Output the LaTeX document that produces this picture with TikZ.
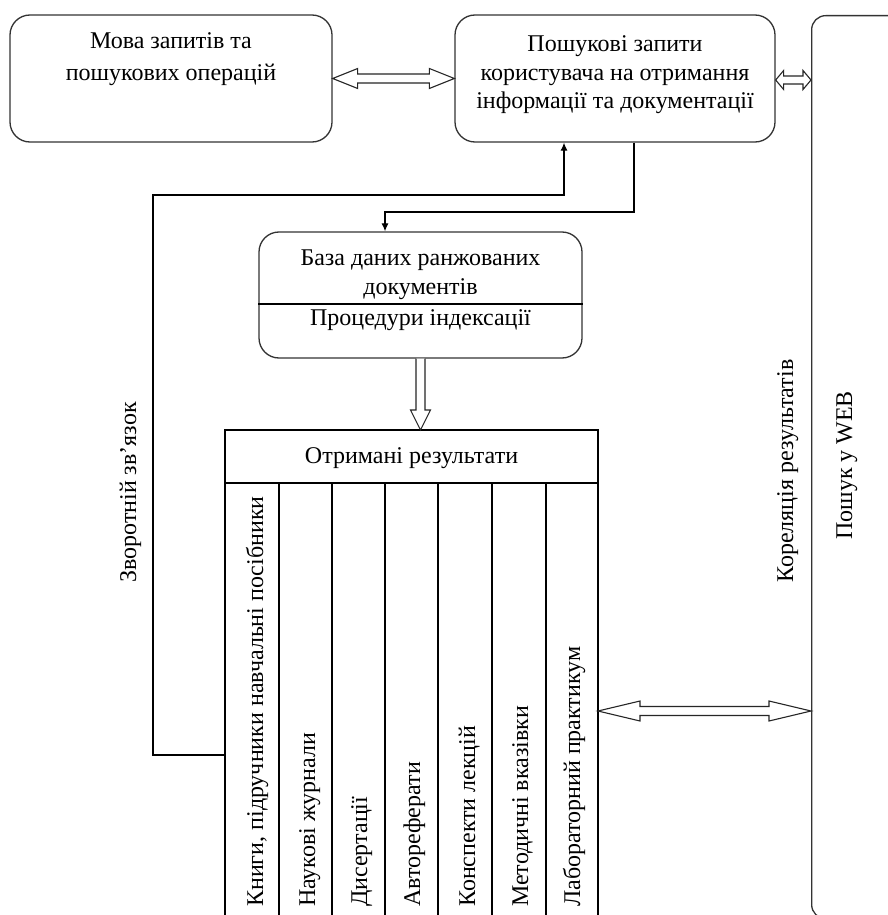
\documentclass[tikz,border=0pt]{standalone}
\usepackage{fontspec}
\setmainfont{Liberation Serif}
\usetikzlibrary{calc,arrows.meta}
\newcommand{\hdarrow}[5]{% #1 left tip, #2 right tip, #3 head length, #4 half head, #5 half shaft
  \draw[hollow] let \p1=(#1), \p2=(#2) in
    (\x1,\y1) -- ({\x1+#3},{\y1+#4}) -- ({\x1+#3},{\y1+#5}) -- ({\x2-#3},{\y1+#5})
    -- ({\x2-#3},{\y1+#4}) -- (\x2,\y1) -- ({\x2-#3},{\y1-#4}) -- ({\x2-#3},{\y1-#5})
    -- ({\x1+#3},{\y1-#5}) -- ({\x1+#3},{\y1-#4}) -- cycle;}
\begin{document}
\begin{tikzpicture}[x=1pt,y=-1pt,
  box/.style={draw=black!80, line width=1.3pt, rounded corners=20pt, fill=white, inner sep=0pt},
  txt/.style={font=\fontsize{24}{28.5}\selectfont, align=center, inner sep=0pt},
  vtxt/.style={font=\fontsize{24}{28.5}\selectfont, inner sep=0pt, rotate=90, anchor=base west},
  conn/.style={draw=black, line width=1.2pt},
  tip/.style={-{Latex[length=8pt,width=7pt]}},
  hollow/.style={draw=black!85, line width=1.1pt, fill=white, line join=miter},
  grid/.style={draw=black, line width=1.2pt}
]
\useasboundingbox (0,0) rectangle (888,915);
\fill[white] (0,0) rectangle (888,915);

% top boxes
\node[box, minimum width=322pt, minimum height=127pt] (b1) at (171,78.5) {};
\node[txt, anchor=north] (b1t) at ($(b1.north)+(0,18.5)$) {Мова запитів та\\[3.5pt]пошукових операцій};
\node[box, minimum width=320pt, minimum height=127pt] (b2) at (615,78.5) {};
\node[txt, anchor=north] (b2t) at ($(b2.north)+(0,21.5)$) {Пошукові запити\\користувача на отримання\\інформації та документації};

% WEB box (cut off at the right and bottom)
\begin{scope}
\clip (0,0) rectangle (888,915);
\node[box, rounded corners=14pt, minimum width=140pt, minimum height=903pt, anchor=north west] (web) at (811,15) {};
\end{scope}
\node[vtxt] (webt) at (852,540) {Пошук у WEB};
\node[vtxt] (kor) at (793,583) {Кореляція результатів};

% database box
\node[box, minimum width=323pt, minimum height=126pt] (b3) at (420.5,295) {};
\draw[grid] (b3.west |- 0,304) coordinate (b3l) -- (b3.east |- 0,304) coordinate (b3r);
\node[txt, anchor=north] (b3t) at ($(b3.north)+(0,18.5)$) {База даних ранжованих\\документів};
\node[txt, anchor=base] (b3p) at (420.5,325) {Процедури індексації};

% results table
\coordinate (rtl) at (225,430);
\coordinate (rtr) at (598,430);
\coordinate (rbl) at (225,918);
\coordinate (rbr) at (598,918);
\draw[grid] (rbl) -- (rtl) -- (rtr) -- (rbr);
\draw[grid] (225,483) -- (598,483);
\node[txt, anchor=base] (res) at (411.5,463) {Отримані результати};
\foreach \x in {279,332,385,438,492,546}{\draw[grid] (\x,483) -- (\x,918);}
\node[vtxt] (c1) at (263,907) {Книги, підручники навчальні посібники};
\node[vtxt] (c2) at (315,907) {Наукові журнали};
\node[vtxt] (c3) at (367,907) {Дисертації};
\node[vtxt] (c4) at (420,907) {Автореферати};
\node[vtxt] (c5) at (475,907) {Конспекти лекцій};
\node[vtxt] (c6) at (528,907) {Методичні вказівки};
\node[vtxt] (c7) at (580,907) {Лабораторний практикум};

% feedback
\node[vtxt] (fb) at (136,583) {Зворотній зв'язок};
\coordinate (fbin) at (225,755);
\draw[conn, tip] (fbin) -- (153,755) -- (153,195) -- (564,195) -- (b2.south -| 564,0);
\draw[conn, tip] (b2.south -| 634,0) -- (634,212) -- (385,212) -- (b3.north -| 385,0);

% hollow arrows
\hdarrow{b1.east}{b2.west}{25}{10}{4.5}
\hdarrow{b2.east |- 0,80}{web.west |- 0,80}{8}{9.5}{4}
\hdarrow{rtr |- 0,711}{web.west |- 0,711}{42}{10}{4.5}
\draw[hollow] let \p1=(b3.south), \p2=(rtl) in
  ({\x1-4.5pt},\y1) -- ({\x1-4.5pt},{\y2+20pt}) -- ({\x1-10pt},{\y2+20pt}) -- (\x1,\y2)
  -- ({\x1+10pt},{\y2+20pt}) -- ({\x1+4.5pt},{\y2+20pt}) -- ({\x1+4.5pt},\y1);
\end{tikzpicture}
\end{document}
